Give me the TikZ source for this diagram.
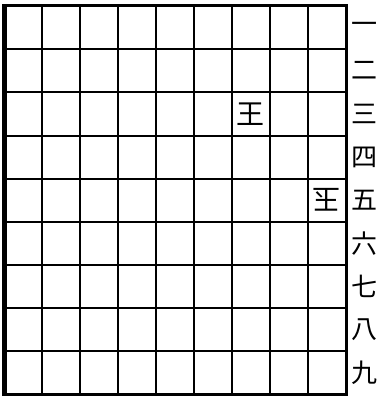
\documentclass[tikz,border=0pt]{standalone}
\usepackage{fontspec}
\newfontfamily\cjk{Noto Sans CJK JP}
\begin{document}
\begin{tikzpicture}[x=1pt,y=-1pt,
  grid line/.style={line width=2.4pt},
  frame line/.style={line width=3.2pt},
  lbl/.style={font=\cjk\fontsize{26}{26}\selectfont,inner sep=0pt},
  piece/.style={font=\cjk\fontsize{28}{28}\selectfont,inner sep=0pt}]
\useasboundingbox (0,0) rectangle (382,396);
\fill[white] (0,0) rectangle (382,396);
\foreach \i in {1,...,8} {
  \pgfmathsetmacro\gx{round(4.5+37.9*\i)}
  \pgfmathsetmacro\gy{round(6+43.17*\i)}
  \draw[grid line] (\gx,5.5) -- (\gx,394.5);
  \draw[grid line] (4.5,\gy) -- (346.5,\gy);
}
\draw[frame line] (4.5,5.5) rectangle (346.5,394.5);
\draw[line width=4.2pt] (4.5,4) -- (4.5,396);
\foreach \t [count=\k] in {一,二,三,四,五,六,七,八,九} {
  \node[lbl] (r\k) at (364,{6+43.17*(\k-0.5)}) {\t};
}
\node[piece] (k1) at ({4.5+37.9*6.5},{6+43.17*2.5}) {王};
\node[piece,rotate=180] (k2) at ({4.5+37.9*8.5},{6+43.17*4.5}) {玉};
\end{tikzpicture}
\end{document}
